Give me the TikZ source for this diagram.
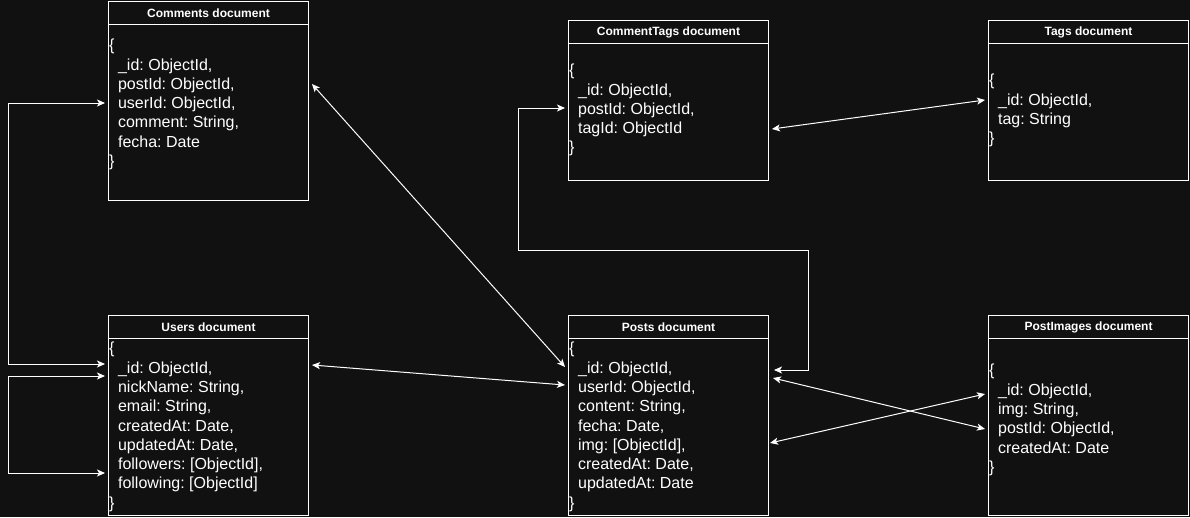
\documentclass[tikz,border=0pt]{standalone}
\usepackage{fontspec}
\setmainfont{Liberation Sans}
\usetikzlibrary{calc,arrows.meta}
\definecolor{canvas}{HTML}{111111}
\newcommand{\fpad}{\hspace*{8.9pt}}
\frenchspacing

\begin{document}
\begin{tikzpicture}[x=1pt,y=-1pt,
	docbox/.style={draw=white, line width=1pt, minimum width=200pt, inner sep=0pt, anchor=north west},
	doctitle/.style={draw=white, line width=1pt, minimum width=200pt, minimum height=23pt, inner sep=0pt, anchor=north, text=white, font=\bfseries\fontsize{12}{14}\selectfont},
	docbody/.style={anchor=north west, inner sep=0pt, align=left, text=white, font=\fontsize{16}{19.3}\selectfont},
	link/.style={draw=white, line width=1pt, {Stealth[length=8pt,width=7pt,inset=2pt]}-{Stealth[length=8pt,width=7pt,inset=2pt]}}]
	\fill[canvas] (0,0) rectangle (1190,517);
	\useasboundingbox (0,0) rectangle (1190,517);

	% documents
	\node[docbox, minimum height=199pt] (comments) at (108,1) {};
	\node[docbox, minimum height=200pt] (users) at (108,315) {};
	\node[docbox, minimum height=200pt] (posts) at (568,315) {};
	\node[docbox, minimum height=160pt] (ctags) at (568,20) {};
	\node[docbox, minimum height=160pt] (tags) at (988,20) {};
	\node[docbox, minimum height=200pt] (pimgs) at (988,315) {};

	\node[doctitle] (comments-t) at (comments.north) {Comments document};
	\node[doctitle] (users-t) at (users.north) {Users document};
	\node[doctitle] (posts-t) at (posts.north) {Posts document};
	\node[doctitle] (ctags-t) at (ctags.north) {CommentTags document};
	\node[doctitle] (tags-t) at (tags.north) {Tags document};
	\node[doctitle] (pimgs-t) at (pimgs.north) {PostImages document};

	\node[docbody] (comments-b) at ([shift={(1,38)}]comments.north west) {\{\\
		\fpad\_id: ObjectId,\\ \fpad postId: ObjectId,\\ \fpad userId: ObjectId,\\
		\fpad comment: String,\\ \fpad fecha: Date\\ \}};
	\node[docbody] (users-b) at ([shift={(1,27)}]users.north west) {\{\\
		\fpad\_id: ObjectId,\\ \fpad nickName: String,\\ \fpad email: String,\\
		\fpad createdAt: Date,\\ \fpad updatedAt: Date,\\ \fpad followers: [ObjectId],\\
		\fpad following: [ObjectId]\\ \}};
	\node[docbody] (posts-b) at ([shift={(1,27)}]posts.north west) {\{\\
		\fpad\_id: ObjectId,\\ \fpad userId: ObjectId,\\ \fpad content: String,\\
		\fpad fecha: Date,\\ \fpad img: [ObjectId],\\ \fpad createdAt: Date,\\
		\fpad updatedAt: Date\\ \}};
	\node[docbody] (ctags-b) at ([shift={(1,44)}]ctags.north west) {\{\\
		\fpad\_id: ObjectId,\\ \fpad postId: ObjectId,\\ \fpad tagId: ObjectId\\ \}};
	\node[docbody] (tags-b) at ([shift={(1,54)}]tags.north west) {\{\\
		\fpad\_id: ObjectId,\\ \fpad tag: String\\ \}};
	\node[docbody] (pimgs-b) at ([shift={(1,49)}]pimgs.north west) {\{\\
		\fpad\_id: ObjectId,\\ \fpad img: String,\\ \fpad postId: ObjectId,\\
		\fpad createdAt: Date\\ \}};

	% ports
	\coordinate (cmUser) at ($(comments.north west)+(-3,102)$);
	\coordinate (cmPost) at ($(comments.north east)+(3,83)$);
	\coordinate (usId) at ($(users.north west)+(-3,49)$);
	\coordinate (usNick) at ($(users.north west)+(-3,61)$);
	\coordinate (usFol) at ($(users.north west)+(-3,158)$);
	\coordinate (usEast) at ($(users.north east)+(3,50)$);
	\coordinate (poId) at ($(posts.north west)+(-3,52)$);
	\coordinate (poUser) at ($(posts.north west)+(-3,70)$);
	\coordinate (poTag) at ($(posts.north east)+(5,55)$);
	\coordinate (poImgA) at ($(posts.north east)+(4,63)$);
	\coordinate (poImgB) at ($(posts.north east)+(1,128)$);
	\coordinate (ctPost) at ($(ctags.north west)+(-3,88)$);
	\coordinate (ctEast) at ($(ctags.north east)+(3,109)$);
	\coordinate (tgId) at ($(tags.north west)+(-3,80)$);
	\coordinate (piId) at ($(pimgs.north west)+(-3,79)$);
	\coordinate (piPost) at ($(pimgs.north west)+(-3,114)$);
	\coordinate (rail) at (8,0);
	\coordinate (ctRailA) at (518,250);
	\coordinate (ctRailB) at (808,250);

	% links
	\draw[link] (cmUser) -- (cmUser -| rail) |- (usId);
	\draw[link] (usNick) -- (usNick -| rail) |- (usFol);
	\draw[link] (cmPost) -- (poId);
	\draw[link] (usEast) -- (poUser);
	\draw[link] (ctPost) -| (ctRailA) -- (ctRailB) |- (poTag);
	\draw[link] (ctEast) -- (tgId);
	\draw[link] (poImgA) -- (piPost);
	\draw[link] (poImgB) -- (piId);
\end{tikzpicture}
\end{document}
